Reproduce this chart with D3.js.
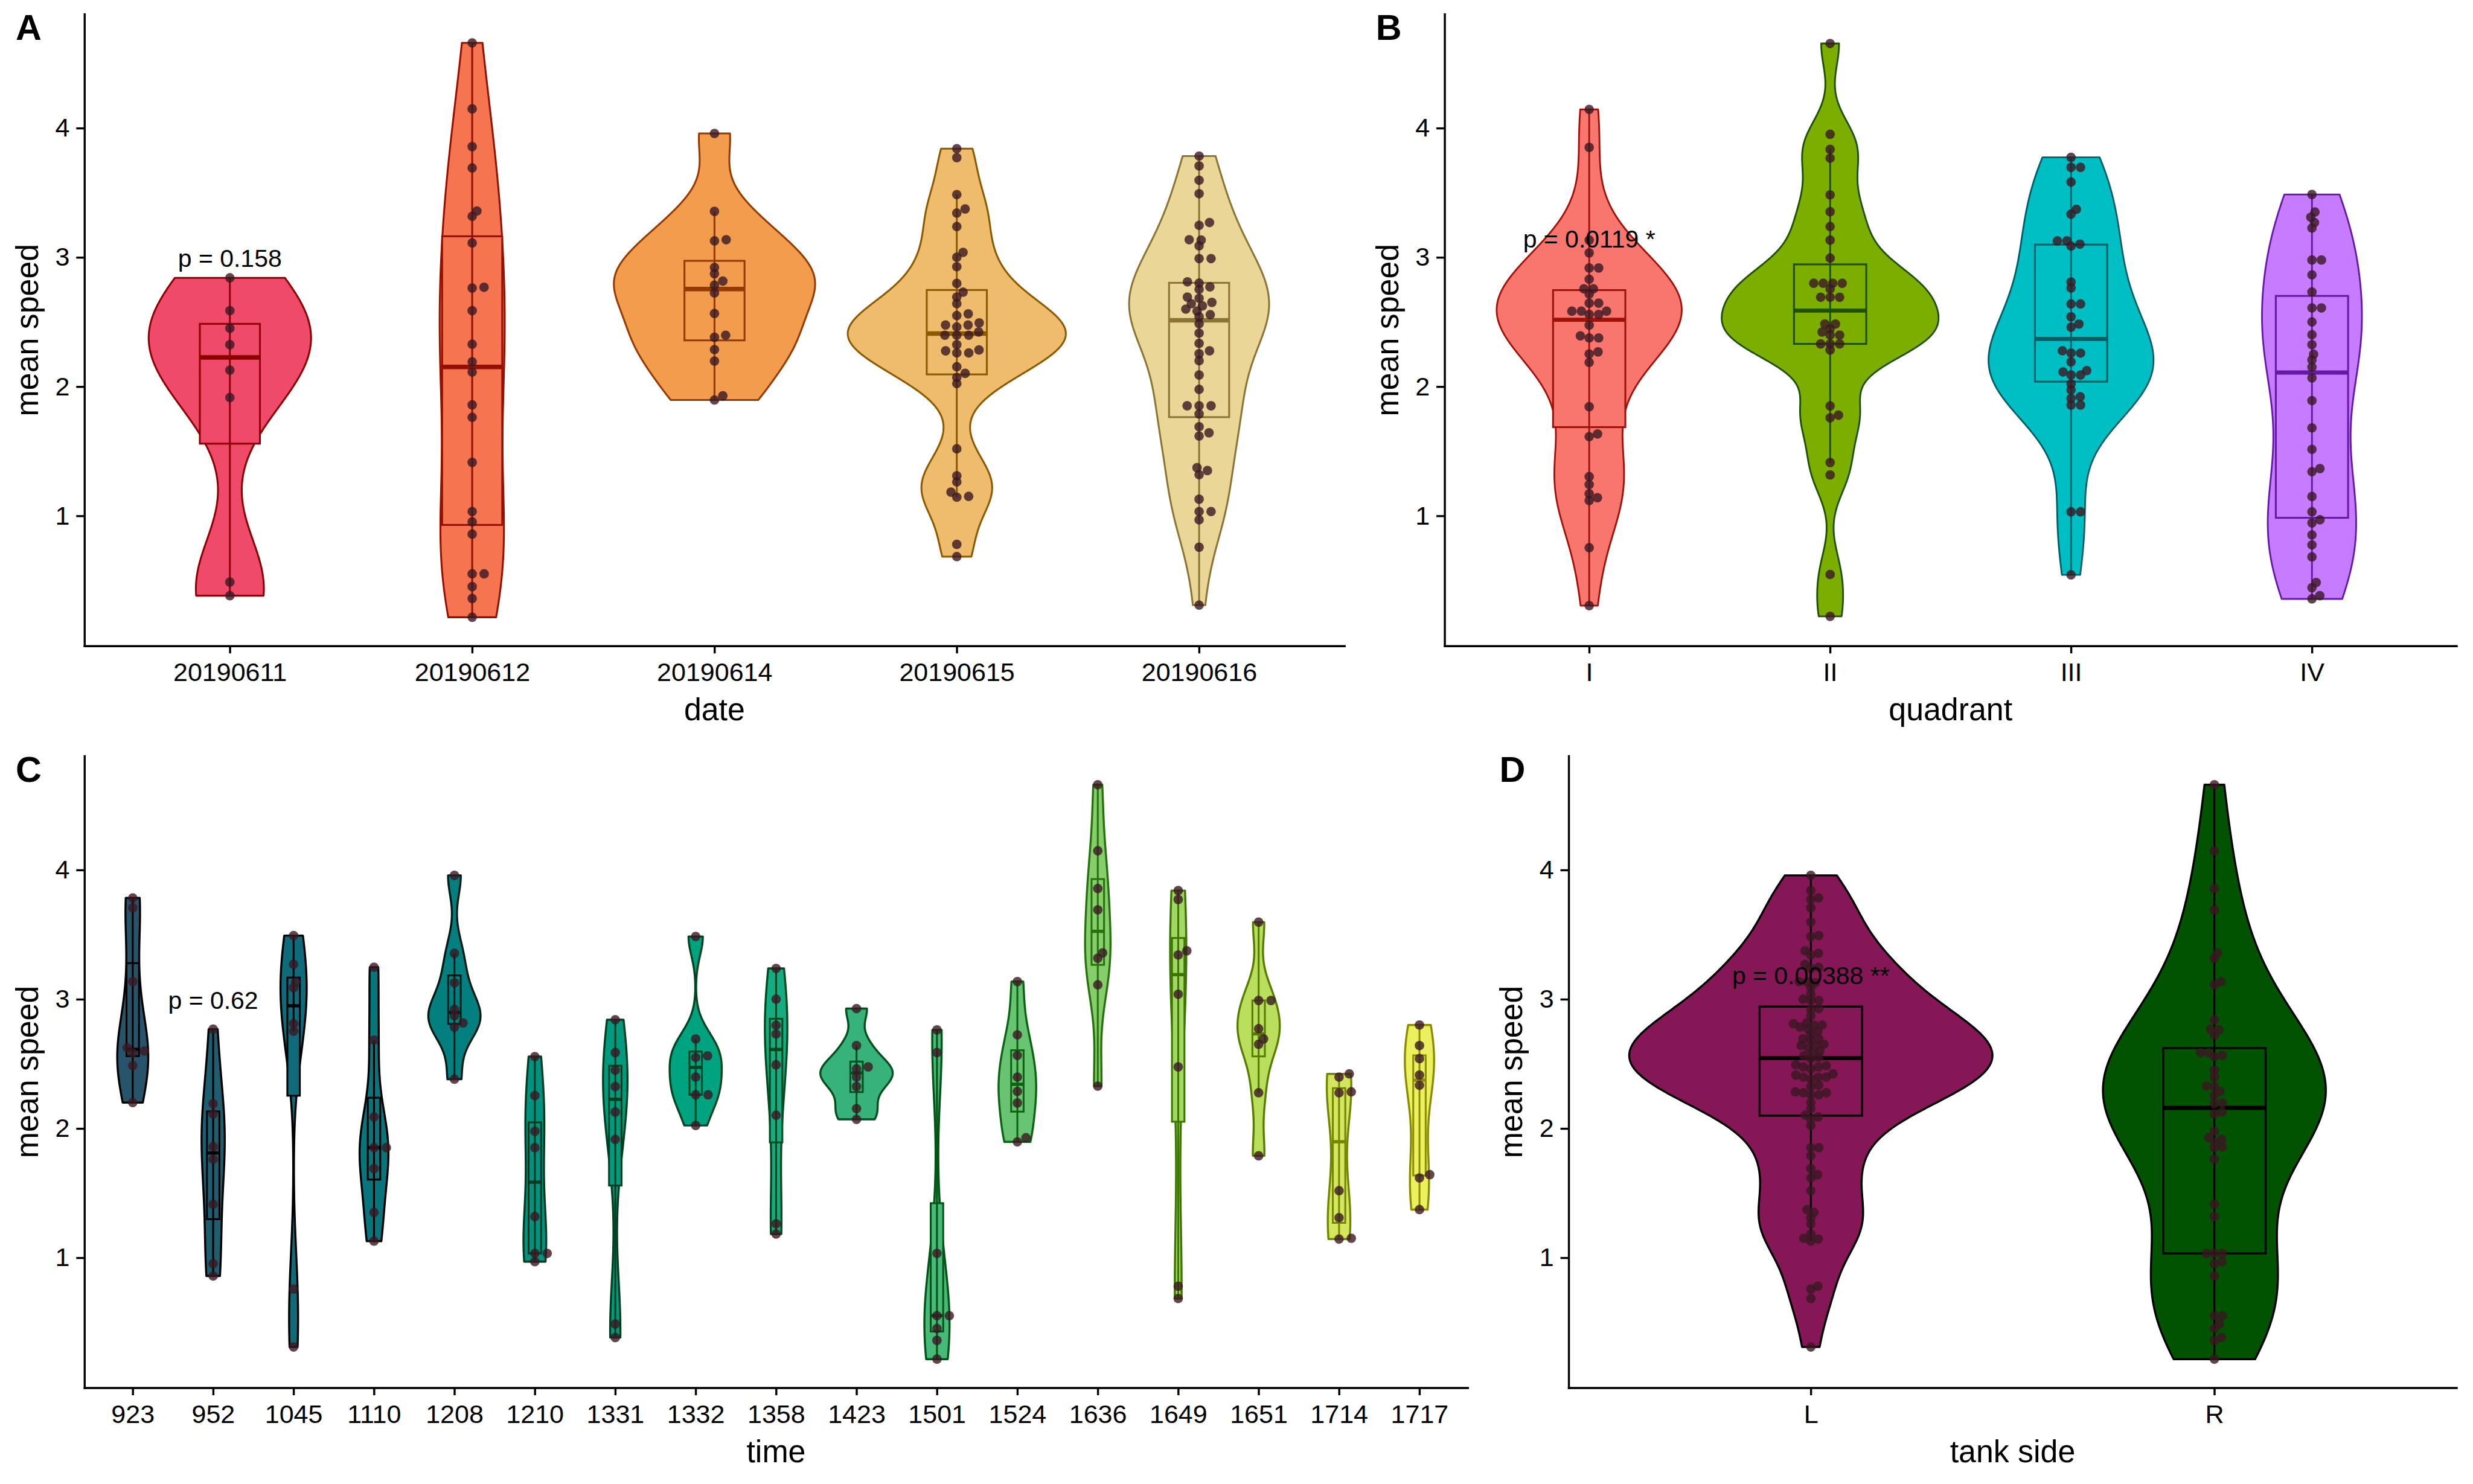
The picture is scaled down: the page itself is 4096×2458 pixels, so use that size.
<!DOCTYPE html>
<html>
<head>
<meta charset="utf-8">
<script src="https://cdn.jsdelivr.net/npm/d3@7"></script>
<style>
html, body { margin: 0; padding: 0; background: #ffffff; }
</style>
</head>
<body>
<script>
// ---------------- DATA ----------------
// one trial per recording time, 8 mean-speed values each
const times = ["923","952","1045","1110","1208","1210","1331","1332","1358","1423","1501","1524","1636","1649","1651","1714","1717"];
const timeSpeeds = [
  [3.784, 3.708, 3.137, 2.625, 2.600, 2.585, 2.487, 2.201], // 923
  [2.769, 2.192, 2.113, 1.859, 1.763, 1.414, 0.954, 0.859], // 952
  [3.493, 3.270, 3.134, 3.090, 2.811, 2.753, 0.758, 0.310], // 1045
  [3.248, 2.684, 2.090, 1.852, 1.852, 1.690, 1.351, 1.129], // 1110
  [3.959, 3.356, 3.128, 2.922, 2.874, 2.817, 2.785, 2.382], // 1208
  [2.557, 2.255, 1.979, 1.852, 1.319, 1.034, 1.034, 0.970], // 1210
  [2.842, 2.588, 2.452, 2.325, 2.128, 1.916, 0.488, 0.383], // 1331
  [3.486, 2.693, 2.563, 2.550, 2.398, 2.261, 2.261, 2.024], // 1332
  [3.239, 3.001, 2.799, 2.731, 2.493, 2.103, 1.263, 1.184], // 1358
  [2.928, 2.642, 2.477, 2.462, 2.398, 2.325, 2.154, 2.071], // 1423
  [2.763, 2.588, 1.034, 0.552, 0.552, 0.453, 0.361, 0.216], // 1501
  [3.137, 2.725, 2.566, 2.398, 2.287, 2.198, 1.929, 1.897], // 1524
  [4.660, 4.149, 3.857, 3.692, 3.359, 3.318, 3.112, 2.328], // 1636
  [3.841, 3.772, 3.375, 3.343, 3.039, 2.477, 0.780, 0.685], // 1649
  [3.597, 2.991, 2.991, 2.772, 2.693, 2.652, 2.277, 1.789], // 1651
  [2.423, 2.398, 2.284, 2.277, 1.519, 1.310, 1.151, 1.145], // 1714
  [2.801, 2.642, 2.541, 2.414, 2.335, 1.643, 1.618, 1.373]  // 1717
];
const timeDate = ["20190616","20190612","20190616","20190616","20190614","20190616","20190611","20190615","20190615","20190615","20190612","20190614","20190612","20190615","20190616","20190615","20190616"];
const timeSide = ["L","R","L","L","L","R","R","L","L","L","R","R","R","L","L","L","L"];

const dates = ["20190611","20190612","20190614","20190615","20190616"];
const sides = ["L","R"];
const quadrants = ["I","II","III","IV"];
const quadSpeeds = [
  [4.145, 3.851, 3.134, 3.035, 2.918, 2.918, 2.831, 2.757, 2.757, 2.717, 2.646, 2.646, 2.584, 2.584, 2.584, 2.559, 2.559, 2.476, 2.393, 2.377, 2.377, 2.269, 2.253, 2.188, 1.845, 1.634, 1.613, 1.304, 1.243, 1.172, 1.141, 1.119, 0.754, 0.306],
  [4.655, 3.953, 3.836, 3.768, 3.484, 3.354, 3.239, 3.134, 2.995, 2.800, 2.800, 2.800, 2.800, 2.757, 2.692, 2.692, 2.692, 2.485, 2.485, 2.448, 2.423, 2.399, 2.399, 2.331, 2.331, 2.331, 2.284, 1.851, 1.780, 1.759, 1.413, 1.317, 0.547, 0.223],
  [3.774, 3.697, 3.697, 3.583, 3.372, 3.335, 3.128, 3.128, 3.103, 3.088, 2.810, 2.764, 2.640, 2.640, 2.541, 2.485, 2.460, 2.278, 2.260, 2.260, 2.192, 2.124, 2.114, 2.090, 2.090, 2.022, 1.975, 1.922, 1.910, 1.858, 1.858, 1.032, 1.032, 0.544],
  [3.487, 3.351, 3.311, 3.270, 3.227, 2.980, 2.980, 2.865, 2.733, 2.609, 2.609, 2.501, 2.402, 2.325, 2.251, 2.207, 2.151, 2.068, 1.892, 1.681, 1.515, 1.366, 1.342, 1.150, 1.032, 0.970, 0.946, 0.853, 0.776, 0.683, 0.485, 0.445, 0.383, 0.358]
];

const yTicks = [1, 2, 3, 4];
const pLabels = { A: "p = 0.158", B: "p = 0.0119 *", C: "p = 0.62", D: "p = 0.00388 **" };

// colours
const dateFill   = ["#F04A6B", "#F47550", "#F29C4E", "#EEBC6C", "#EAD797"];
const dateStroke = ["#8B0000", "#941100", "#963B00", "#8B5A00", "#8B7536"];
const quadFill   = ["#F8766D", "#7CAE00", "#00BFC4", "#C77CFF"];
const quadStroke = ["#9E120A", "#1F4F00", "#005F65", "#6519A6"];
const timeFill   = ["#28546B", "#1F5D70", "#0F6A79", "#08747C", "#047F7F", "#04917F", "#019A7F", "#00A380", "#14AC80", "#38B27B", "#47B978", "#68C472", "#86CE6B", "#A2D764", "#BADF5D", "#D4E65F", "#ECF05E"];
const timeStroke = ["#000000", "#000000", "#000000", "#000000", "#001A14", "#003B22", "#003F20", "#004420", "#004A20", "#00501C", "#005416", "#0B6412", "#27720F", "#3C7600", "#567D00", "#748500", "#8C8C00"];
const sideFill   = ["#861757", "#015201"];
const sideStroke = ["#000000", "#000000"];

// ---------------- DERIVED GROUPS ----------------
const dateGroups = dates.map(d => timeSpeeds.filter((_, i) => timeDate[i] === d).flat());
const sideGroups = sides.map(s => timeSpeeds.filter((_, i) => timeSide[i] === s).flat());

// ---------------- HELPERS ----------------
const FONT = '"Liberation Sans", Arial, Helvetica, sans-serif';
const svg = d3.select("body").append("svg")
  .attr("width", 4096).attr("height", 2458)
  .attr("viewBox", "0 0 6000 3600")
  .style("display", "block").style("background", "#ffffff");

const all = timeSpeeds.flat();
const ext = d3.extent(all);
const padY = (ext[1] - ext[0]) * 0.05;
const yDomain = [ext[0] - padY, ext[1] + padY];

function kde(vals) {
  const s = vals.slice().sort(d3.ascending);
  const n = s.length;
  const sd = d3.deviation(s);
  const iqr = d3.quantileSorted(s, 0.75) - d3.quantileSorted(s, 0.25);
  let lo = Math.min(sd, iqr / 1.34);
  if (!(lo > 0)) lo = sd > 0 ? sd : 1;
  const bw = 0.9 * lo * Math.pow(n, -0.2);
  const mn = s[0], mx = s[n - 1];
  const c = 1 / (n * bw * Math.sqrt(2 * Math.PI));
  return d3.range(512).map(k => {
    const y = mn + (mx - mn) * k / 511;
    let sum = 0;
    for (const v of s) { const z = (y - v) / bw; sum += Math.exp(-0.5 * z * z); }
    return [y, sum * c];
  });
}

function swarm(vals, y, xsize, ysize) {
  const order = d3.range(vals.length).sort((a, b) => vals[a] - vals[b]);
  const placed = [];
  const offs = new Array(vals.length);
  for (const i of order) {
    const py = y(vals[i]);
    const near = placed.filter(p => Math.abs(p.y - py) < ysize);
    const plus = [], minus = [];
    near.forEach(p => {
      const dy = (py - p.y) / ysize;
      const d = xsize * Math.sqrt(Math.max(0, 1 - dy * dy));
      plus.push(p.x + d); minus.push(p.x - d);
    });
    const cands = [0].concat(plus, minus);
    const ok = cands.filter(cnd => near.every(p => {
      const dx = (cnd - p.x) / xsize, dy = (py - p.y) / ysize;
      return dx * dx + dy * dy >= 0.999;
    }));
    let best = ok.length ? ok[0] : 0;
    ok.forEach(cnd => { if (Math.abs(cnd) < Math.abs(best) - 1e-9) best = cnd; });
    offs[i] = best;
    placed.push({ x: best, y: py });
  }
  return offs;
}

function panel(cfg) {
  const g = svg.append("g");
  const x = d3.scalePoint().domain(cfg.cats).range([cfg.left, cfg.right]).padding(0.6);
  const y = d3.scaleLinear().domain(yDomain).range([cfg.bottom, cfg.top]);
  const step = x.step();
  const halfMax = 0.9 * step / 2;
  const profs = cfg.groups.map(kde);
  const maxD = d3.max(profs, p => d3.max(p, d => d[1]));

  cfg.groups.forEach((vals, i) => {
    const cx = x(cfg.cats[i]);
    const fill = cfg.fills[i], stroke = cfg.strokes[i];
    const area = d3.area()
      .x0(d => cx - d[1] / maxD * halfMax)
      .x1(d => cx + d[1] / maxD * halfMax)
      .y(d => y(d[0]));
    g.append("path").attr("d", area(profs[i]))
      .attr("fill", fill).attr("stroke", stroke)
      .attr("stroke-width", cfg.vStroke).attr("stroke-linejoin", "round");

    const s = vals.slice().sort(d3.ascending);
    const q1 = d3.quantileSorted(s, 0.25), med = d3.quantileSorted(s, 0.5), q3 = d3.quantileSorted(s, 0.75);
    const iqr = q3 - q1;
    const wLo = d3.min(s.filter(v => v >= q1 - 1.5 * iqr));
    const wHi = d3.max(s.filter(v => v <= q3 + 1.5 * iqr));
    const bw = cfg.boxFrac * step;
    g.append("rect").attr("x", cx - bw / 2).attr("y", y(q3))
      .attr("width", bw).attr("height", y(q1) - y(q3)).attr("fill", fill);
    g.append("line").attr("x1", cx).attr("x2", cx).attr("y1", y(wLo)).attr("y2", y(wHi))
      .attr("stroke", stroke).attr("stroke-width", cfg.wStroke);
    g.append("rect").attr("x", cx - bw / 2).attr("y", y(q3))
      .attr("width", bw).attr("height", y(q1) - y(q3))
      .attr("fill", "none").attr("stroke", stroke).attr("stroke-width", cfg.bStroke);
    g.append("line").attr("x1", cx - bw / 2).attr("x2", cx + bw / 2).attr("y1", y(med)).attr("y2", y(med))
      .attr("stroke", stroke).attr("stroke-width", cfg.mStroke);

    const offs = swarm(vals, y, cfg.xsize, 14);
    g.append("g").selectAll("circle").data(vals).join("circle")
      .attr("cx", (d, k) => cx + offs[k])
      .attr("cy", d => y(d))
      .attr("r", 11.5)
      .attr("fill", "rgb(58,24,34)")
      .attr("fill-opacity", 0.8);
  });

  // p-value label
  g.append("text")
    .attr("x", x(cfg.cats[cfg.pCat])).attr("y", y(cfg.pY))
    .attr("text-anchor", "middle").attr("font-family", FONT).attr("font-size", 60)
    .attr("fill", "#000").text(cfg.pText);

  // axes
  const ya = g.append("g").attr("transform", `translate(${cfg.left},0)`)
    .call(d3.axisLeft(y).tickValues(yTicks).tickFormat(d3.format("d")).tickSize(20).tickSizeOuter(0).tickPadding(16));
  const xa = g.append("g").attr("transform", `translate(0,${cfg.bottom})`)
    .call(d3.axisBottom(x).tickSize(18).tickSizeOuter(0).tickPadding(23));
  [ya, xa].forEach(a => {
    a.select(".domain").attr("stroke", "#000").attr("stroke-width", 5).attr("stroke-linecap", "square");
    a.selectAll(".tick line").attr("stroke", "#000").attr("stroke-width", 5);
    a.selectAll(".tick text").attr("font-size", 63).attr("font-family", FONT).attr("fill", "#000");
  });

  // titles
  g.append("text")
    .attr("transform", `translate(${cfg.cellLeft + 93},${(cfg.top + cfg.bottom) / 2}) rotate(-90)`)
    .attr("text-anchor", "middle").attr("font-family", FONT).attr("font-size", 76).attr("fill", "#000")
    .text("mean speed");
  g.append("text")
    .attr("x", (cfg.left + cfg.right) / 2).attr("y", cfg.bottom + 180)
    .attr("text-anchor", "middle").attr("font-family", FONT).attr("font-size", 76).attr("fill", "#000")
    .text(cfg.xTitle);
  g.append("text")
    .attr("x", cfg.cellLeft + 38).attr("y", cfg.top + 63)
    .attr("font-family", FONT).attr("font-size", 87).attr("font-weight", "bold").attr("fill", "#000")
    .text(cfg.label);
}

// ---------------- PANELS ----------------
panel({ label: "A", cellLeft: 0, left: 205, right: 3262, top: 34, bottom: 1567,
  cats: dates, groups: dateGroups, fills: dateFill, strokes: dateStroke,
  boxFrac: 0.248, vStroke: 4.5, bStroke: 4.5, wStroke: 4.5, mStroke: 11, xsize: 29,
  xTitle: "date", pText: pLabels.A, pCat: 0, pY: 2.925 });

panel({ label: "B", cellLeft: 3300, left: 3505, right: 5960, top: 34, bottom: 1567,
  cats: quadrants, groups: quadSpeeds, fills: quadFill, strokes: quadStroke,
  boxFrac: 0.30, vStroke: 4.2, bStroke: 4.5, wStroke: 4.2, mStroke: 10, xsize: 23,
  xTitle: "quadrant", pText: pLabels.B, pCat: 0, pY: 3.075 });

panel({ label: "C", cellLeft: 0, left: 205, right: 3561, top: 1834, bottom: 3367,
  cats: times, groups: timeSpeeds, fills: timeFill, strokes: timeStroke,
  boxFrac: 0.155, vStroke: 5, bStroke: 4.5, wStroke: 4.5, mStroke: 8, xsize: 30,
  xTitle: "time", pText: pLabels.C, pCat: 1, pY: 2.928 });

panel({ label: "D", cellLeft: 3600, left: 3806, right: 5960, top: 1834, bottom: 3367,
  cats: sides, groups: sideGroups, fills: sideFill, strokes: sideStroke,
  boxFrac: 0.254, vStroke: 5, bStroke: 5, wStroke: 4.5, mStroke: 10, xsize: 19.5,
  xTitle: "tank side", pText: pLabels.D, pCat: 0, pY: 3.119 });
</script>
</body>
</html>
